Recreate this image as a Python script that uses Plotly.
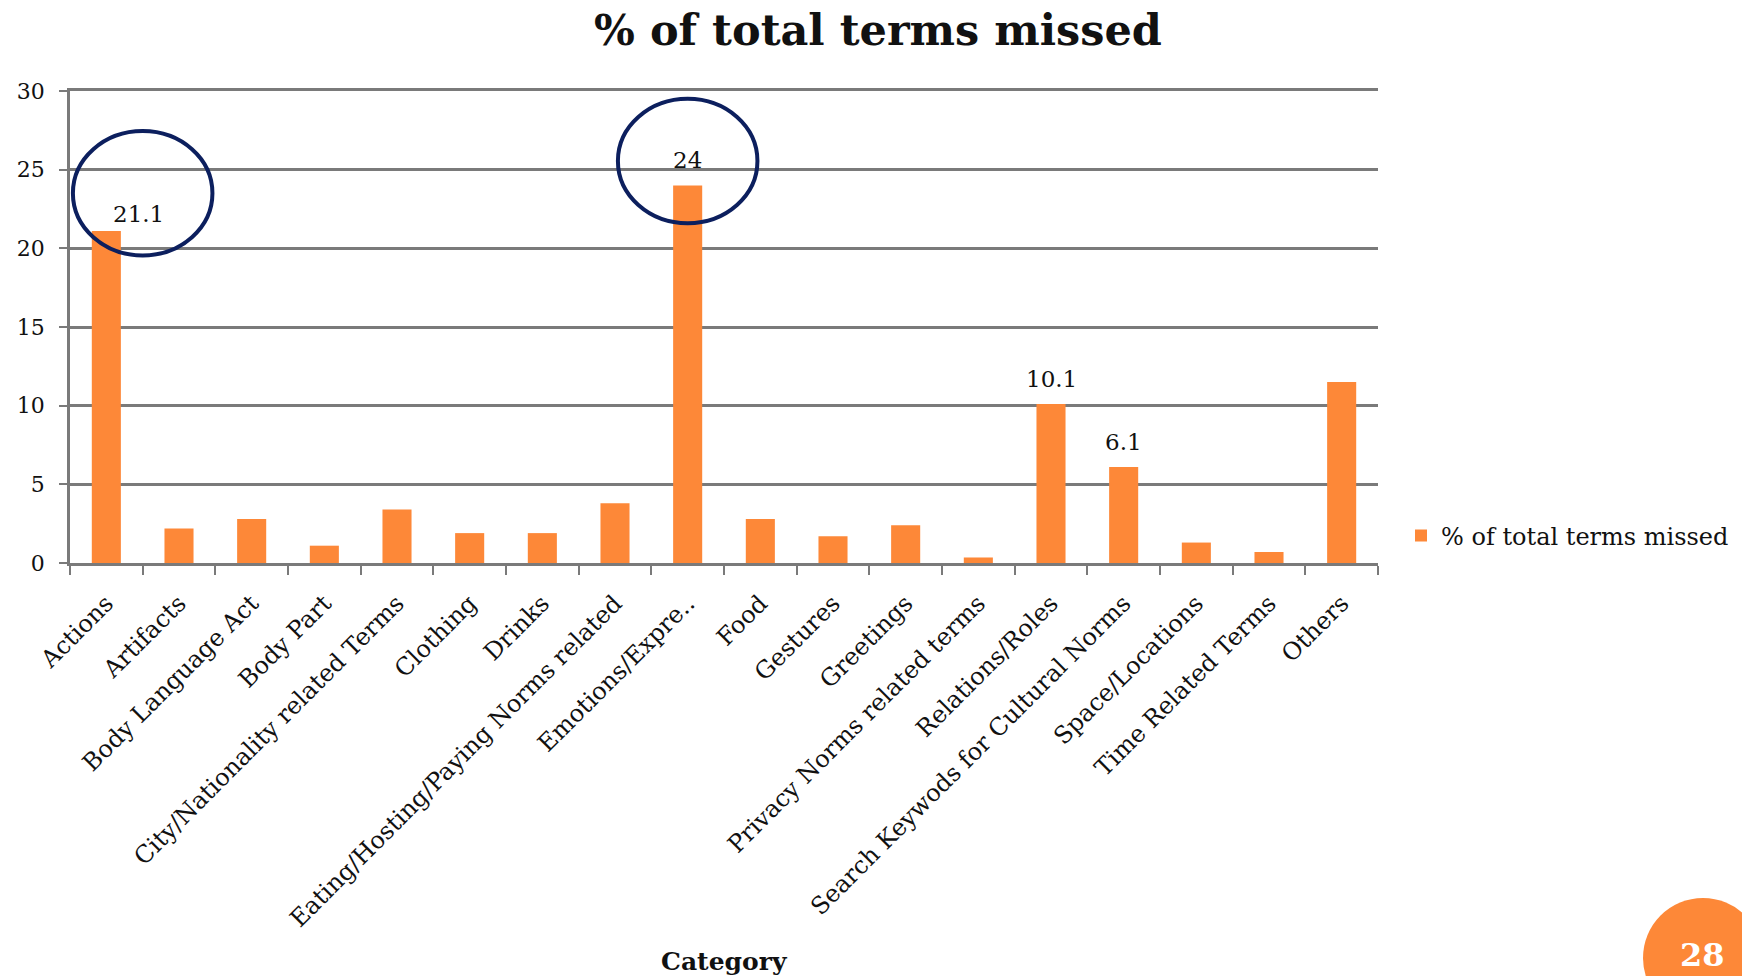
import plotly.graph_objects as go

# ---- data -------------------------------------------------------------
categories = [
    "Actions", "Artifacts", "Body Language Act", "Body Part",
    "City/Nationality related Terms", "Clothing", "Drinks",
    "Eating/Hosting/Paying Norms related", "Emotions/Expre..", "Food",
    "Gestures", "Greetings", "Privacy Norms related terms",
    "Relations/Roles", "Search Keywods for Cultural Norms",
    "Space/Locations", "Time Related Terms", "Others",
]
pct_missed = [21.1, 2.2, 2.8, 1.1, 3.4, 1.9, 1.9, 3.8, 24, 2.8,
              1.7, 2.4, 0.35, 10.1, 6.1, 1.3, 0.7, 11.5]
labeled = ["Actions", "Emotions/Expre..", "Relations/Roles",
           "Search Keywods for Cultural Norms"]
circled = ["Actions", "Emotions/Expre.."]
y_ticks = [0, 5, 10, 15, 20, 25, 30]
series_name = "% of total terms missed"
slide_number = "28"

# ---- layout constants --------------------------------------------------
W, H = 1742, 976
ML, MR, MT, MB = 70, 364, 91, 413
PW, PH = W - ML - MR, H - MT - MB
FONT = "DejaVu Serif"
ORANGE = "#FD8838"
GRID = "#7A7A7A"
NAVY = "#0C1F5E"
INK = "#111111"


def px_x(px):
    return (px - ML) / PW


def px_y(py):
    return (H - MB - py) / PH


fig = go.Figure()
fig.add_trace(go.Bar(
    x=categories, y=pct_missed, name=series_name,
    marker=dict(color=ORANGE, line=dict(width=0)),
    width=0.4, showlegend=True,
))

annotations = []
shapes = []
for name in labeled:
    i = categories.index(name)
    v = pct_missed[i]
    first = (i == 0)
    annotations.append(dict(
        x=i, y=v, xref="x", yref="y", text=f"{v:g}", showarrow=False,
        font=dict(family=FONT, size=23, color=INK),
        xshift=32 if first else 0, yshift=17 if first else 25,
        yanchor="middle",
    ))

# highlight ellipses around selected value labels
for name in circled:
    i = categories.index(name)
    v = pct_missed[i]
    cx = i + 0.5 if i == 0 else i
    cy = v + 2.4 if i == 0 else v + 1.55
    rx, ry = 0.96, 3.95
    shapes.append(dict(
        type="circle", xref="x", yref="y",
        x0=cx - rx, x1=cx + rx, y0=cy - ry, y1=cy + ry,
        line=dict(color=NAVY, width=4), layer="above",
    ))

# slide page-number badge
cxp, cyp, r = 1703, 958, 60
shapes.append(dict(
    type="circle", xref="paper", yref="paper",
    x0=px_x(cxp - r), x1=px_x(cxp + r),
    y0=px_y(cyp + r), y1=px_y(cyp - r),
    fillcolor=ORANGE, line=dict(width=0), layer="above",
))
annotations.append(dict(
    x=px_x(1702), y=px_y(955), xref="paper", yref="paper",
    text=f"<b>{slide_number}</b>", showarrow=False,
    font=dict(family=FONT, size=32, color="white"),
    xanchor="center", yanchor="middle",
))

# x-axis title
annotations.append(dict(
    x=0.5, y=px_y(961), xref="paper", yref="paper",
    text="<b>Category</b>", showarrow=False,
    font=dict(family=FONT, size=25, color=INK),
    xanchor="center", yanchor="middle",
))

fig.update_layout(
    width=W, height=H,
    margin=dict(l=ML, r=MR, t=MT, b=MB, pad=0, autoexpand=False),
    paper_bgcolor="white", plot_bgcolor="white",
    font=dict(family=FONT, color=INK),
    title=dict(
        text=f"<b>{series_name}</b>", x=878 / W, xanchor="center",
        y=1 - 30 / H, yanchor="middle", yref="container",
        font=dict(family=FONT, size=43, color=INK),
    ),
    bargap=0.6,
    xaxis=dict(
        type="category", tickangle=-45, tickson="boundaries",
        ticks="outside", ticklen=9, tickwidth=2, tickcolor=GRID,
        showline=True, mirror=True, linecolor=GRID, linewidth=2.5,
        showgrid=False, ticklabelstandoff=14,
        tickfont=dict(family=FONT, size=24, color=INK),
        range=[-0.5, len(categories) - 0.5], fixedrange=True,
    ),
    yaxis=dict(
        range=[0, 30], tickvals=y_ticks, ticks="outside", ticklen=8,
        tickwidth=2, tickcolor=GRID, showline=True, linecolor=GRID,
        linewidth=2.5, showgrid=True, gridcolor=GRID, gridwidth=2.5,
        zeroline=False, ticklabelstandoff=10,
        tickfont=dict(family=FONT, size=22, color=INK),
    ),
    legend=dict(
        x=px_x(1401), y=px_y(536), xanchor="left", yanchor="middle",
        font=dict(family=FONT, size=24, color=INK),
        bgcolor="rgba(0,0,0,0)", borderwidth=0,
    ),
    annotations=annotations,
    shapes=shapes,
)

fig.write_html("out.html")
